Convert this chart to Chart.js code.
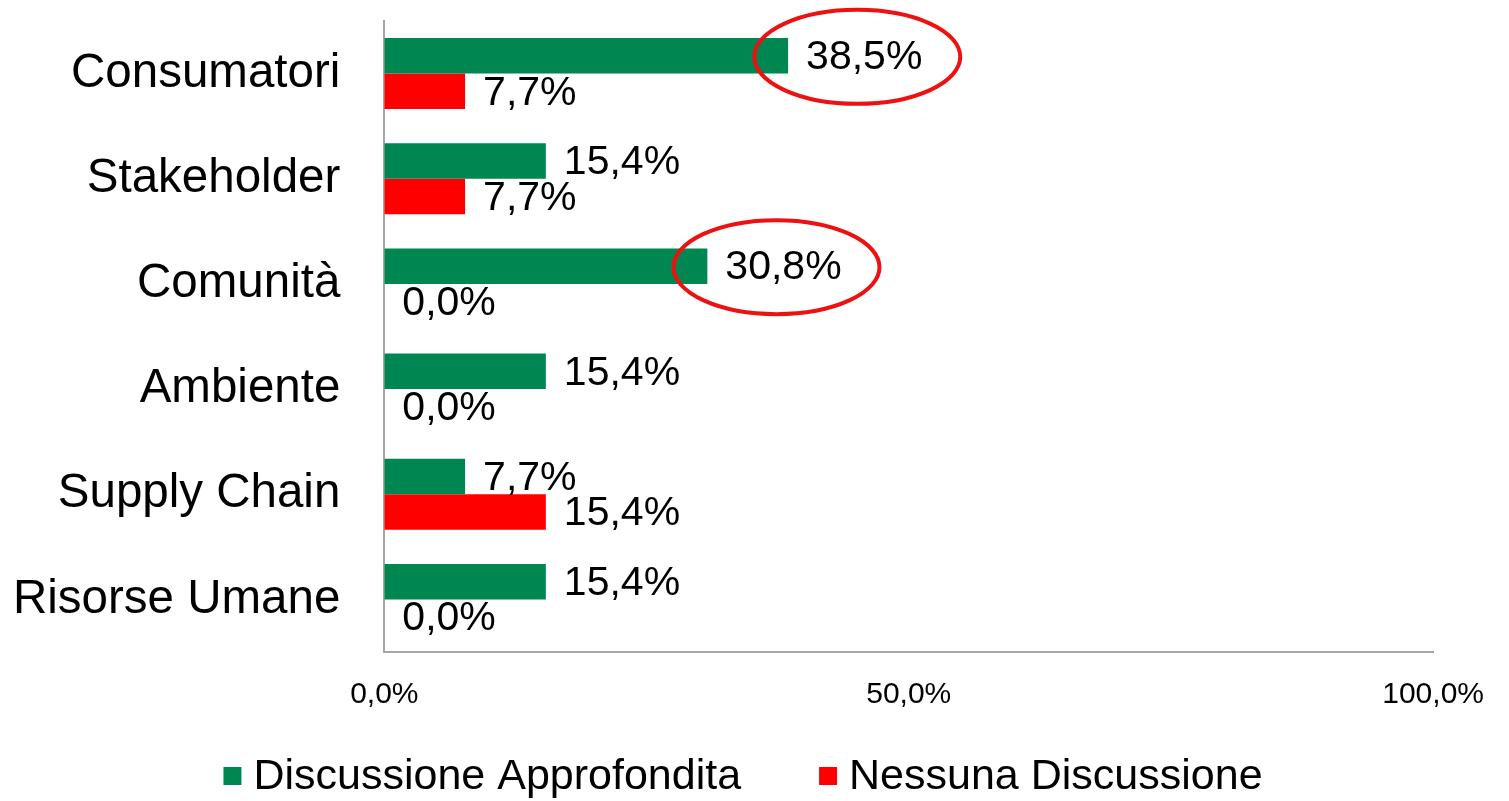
<!DOCTYPE html>
<html>
<head>
<meta charset="utf-8">
<script src="https://cdn.jsdelivr.net/npm/chart.js@4"></script>
<style>
  html, body { margin: 0; padding: 0; background: #fff; }
  #wrap { width: 1509px; height: 801px; }
</style>
</head>
<body>
<div id="wrap"><canvas id="grafico"></canvas></div>
<script>
// dati del grafico
const categorie = ['Consumatori', 'Stakeholder', 'Comunità', 'Ambiente', 'Supply Chain', 'Risorse Umane'];
const approfondita = [38.5, 15.4, 30.8, 15.4, 7.7, 15.4];
const nessuna = [7.7, 7.7, 0.0, 0.0, 15.4, 0.0];
const tickX = [0, 50, 100];
// etichette cerchiate: [dataset, indice]
const evidenziate = [[0, 0], [0, 2]];

const FONT = "'Liberation Sans', Arial, sans-serif";
const fmt = v => v.toFixed(1).replace('.', ',') + '%';

// etichette dei valori + ellissi rosse
const etichette = {
  id: 'etichette',
  afterDatasetsDraw(chart) {
    const ctx = chart.ctx;
    ctx.save();
    ctx.font = '41px ' + FONT;
    ctx.fillStyle = '#000';
    ctx.textBaseline = 'middle';
    ctx.textAlign = 'left';
    chart.data.datasets.forEach((ds, di) => {
      chart.getDatasetMeta(di).data.forEach((el, i) => {
        ctx.fillText(fmt(ds.data[i]), el.x + 18, el.y + 2);
      });
    });
    evidenziate.forEach(([di, i]) => {
      const el = chart.getDatasetMeta(di).data[i];
      const w = ctx.measureText(fmt(chart.data.datasets[di].data[i])).width;
      const cx = el.x + 18 + w / 2 - 7;
      ctx.beginPath();
      ctx.ellipse(cx, el.y + 1, 103, 47, 0, 0, Math.PI * 2);
      ctx.strokeStyle = '#ee1111';
      ctx.lineWidth = 4;
      ctx.stroke();
    });
    ctx.restore();
  }
};

// legenda in basso, disegnata a mano
const legenda = {
  id: 'legenda',
  afterDraw(chart) {
    const ctx = chart.ctx;
    ctx.save();
    ctx.font = '43px ' + FONT;
    ctx.textBaseline = 'middle';
    ctx.textAlign = 'left';
    const box = 18, gap = 12, spazio = 78, y = 776;
    const items = chart.data.datasets.map(ds => ({ t: ds.label, c: ds.backgroundColor, w: ctx.measureText(ds.label).width }));
    const tot = items.reduce((s, it) => s + box + gap + it.w, 0) + spazio * (items.length - 1);
    let x = 743 - tot / 2;
    items.forEach(it => {
      ctx.fillStyle = it.c;
      ctx.fillRect(x, y - box / 2, box, box);
      ctx.fillStyle = '#000';
      ctx.fillText(it.t, x + box + gap, y + 1);
      x += box + gap + it.w + spazio;
    });
    ctx.restore();
  }
};

new Chart(document.getElementById('grafico'), {
  type: 'bar',
  data: {
    labels: categorie,
    datasets: [
      { label: 'Discussione Approfondita', data: approfondita, backgroundColor: '#008751', barPercentage: 1, categoryPercentage: 0.675 },
      { label: 'Nessuna Discussione', data: nessuna, backgroundColor: '#ff0000', barPercentage: 1, categoryPercentage: 0.675 }
    ]
  },
  options: {
    indexAxis: 'y',
    responsive: true,
    maintainAspectRatio: false,
    animation: false,
    layout: { padding: { top: 21, right: 75, bottom: 63, left: 13 } },
    scales: {
      x: {
        min: 0, max: 100,
        afterBuildTicks: ax => { ax.ticks = tickX.map(v => ({ value: v })); },
        grid: { display: false, drawTicks: false },
        border: { color: '#a6a6a6', width: 2 },
        ticks: { font: { size: 30, family: FONT }, color: '#000', padding: 25, maxRotation: 0, callback: v => fmt(v) }
      },
      y: {
        grid: { display: false, drawTicks: false },
        border: { color: '#a6a6a6', width: 2 },
        ticks: { font: { size: 47.5, family: FONT }, color: '#000', padding: 44 },
        afterFit: s => { s.width -= 44; s.paddingTop = 0; s.paddingBottom = 0; }
      }
    },
    plugins: {
      legend: { display: false },
      tooltip: { enabled: false }
    }
  },
  plugins: [etichette, legenda]
});
</script>
</body>
</html>
